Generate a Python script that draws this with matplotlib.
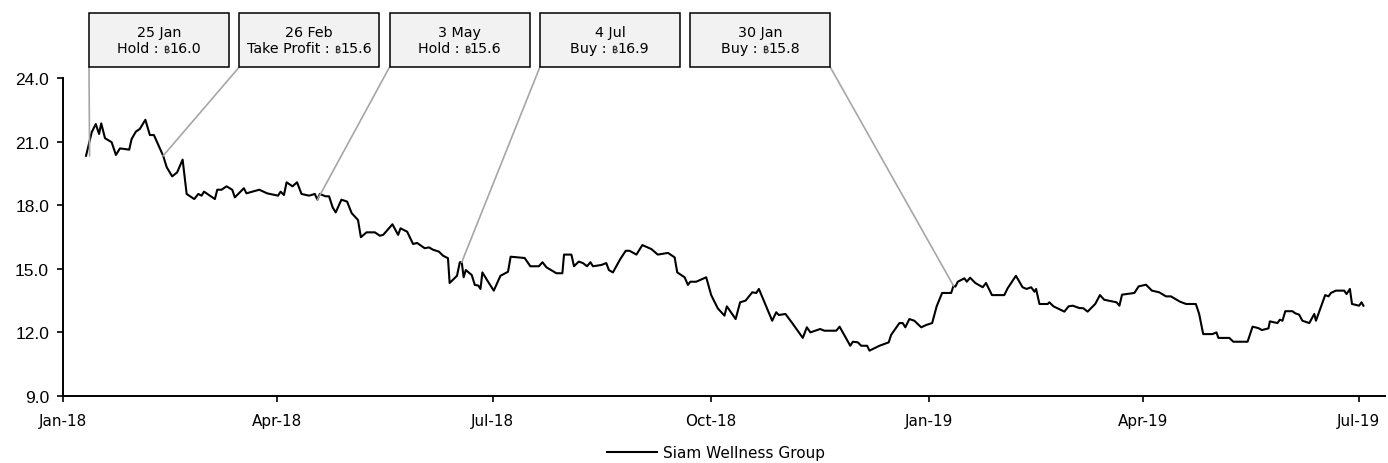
import matplotlib
matplotlib.use("Agg")
import matplotlib.pyplot as plt
import matplotlib.dates as mdates
import matplotlib.patches as mpatch
from matplotlib.offsetbox import TextArea, HPacker, VPacker, AnnotationBbox
import numpy as np
import pandas as pd

# days since 1 Jan 2018
days = [9.7, 12.1, 13.8, 15.2, 16.1, 17.7, 20.5, 22.3, 24.0, 27.9, 28.9, 30.7, 32.4, 34.7, 36.6, 38.3,
        42.2, 43.7, 46.0, 48.1, 50.4, 52.1, 55.3, 57.0, 58.4, 59.4, 64.0, 65.0, 66.8, 68.9, 71.3, 72.4,
        76.2, 77.3, 82.7, 86.0, 90.6, 91.7, 93.1, 94.2, 96.7, 98.6, 100.5, 103.7, 106.1, 107.2, 108.2,
        110.6, 112.1, 113.6, 114.9, 117.3, 119.7, 121.6, 124.3, 125.5, 127.9, 131.4, 133.5, 134.9, 138.8,
        141.2, 142.2, 145.0, 147.5, 149.2, 152.4, 154.2, 155.9, 158.4, 160.1, 162.2, 162.9, 166.0, 167.2,
        168.0, 168.8, 169.7, 172.2, 173.5, 175.0, 175.9, 176.7, 179.1, 181.5, 184.3, 187.5, 188.6, 194.5,
        196.9, 200.5, 202.0, 203.7, 207.9, 210.4, 211.1, 214.2, 215.3, 217.3, 219.1, 220.8, 222.2, 223.3,
        226.8, 228.9, 230.0, 231.7, 234.8, 237.1, 238.7, 241.6, 244.1, 245.3, 247.9, 250.6, 254.9, 257.7,
        258.8, 261.9, 263.3, 264.3, 266.8, 271.0, 273.1, 275.9, 278.7, 279.7, 283.4, 285.3, 287.6, 290.4,
        292.1, 293.2, 298.8, 300.5, 301.6, 304.4, 307.5, 311.7, 313.4, 314.9, 319.0, 320.8, 325.8, 327.2,
        331.7, 332.8, 334.9, 336.3, 338.8, 339.8, 344.0, 347.9, 348.9, 352.4, 353.8, 354.9, 356.6, 358.7,
        361.6, 363.7, 366.2, 368.1, 370.4, 374.2, 375.2, 376.0, 377.0, 379.8, 380.8, 382.2, 384.4, 387.5,
        388.9, 391.4, 396.6, 398.0, 401.5, 404.3, 406.0, 407.9, 409.3, 410.0, 411.4, 414.9, 415.6, 417.3,
        421.9, 423.7, 425.4, 428.2, 429.9, 431.7, 434.9, 436.9, 438.7, 443.9, 445.1, 446.2, 451.4, 453.2,
        456.3, 458.8, 461.9, 464.7, 466.8, 470.6, 473.2, 477.3, 478.7, 480.4, 484.3, 486.0, 486.8, 491.4,
        493.1, 499.1, 501.2, 503.7, 505.1, 507.9, 508.5, 511.7, 512.7, 513.8, 515.0, 518.0, 519.2, 520.8,
        522.2, 525.1, 527.2, 527.9, 531.8, 533.2, 534.2, 536.3, 539.8, 540.8, 542.2, 543.1, 546.1, 547.1,
        547.9]
prices = [20.33, 21.44, 21.83, 21.36, 21.86, 21.16, 20.97, 20.37, 20.68, 20.62, 21.12, 21.47, 21.6, 22.03,
          21.31, 21.31, 20.33, 19.79, 19.36, 19.55, 20.15, 18.53, 18.29, 18.53, 18.45, 18.64, 18.29, 18.73,
          18.73, 18.89, 18.73, 18.37, 18.8, 18.56, 18.73, 18.56, 18.45, 18.64, 18.48, 19.08, 18.89, 19.08,
          18.53, 18.45, 18.53, 18.26, 18.53, 18.42, 18.42, 17.9, 17.66, 18.26, 18.17, 17.63, 17.3, 16.49,
          16.72, 16.72, 16.56, 16.6, 17.1, 16.6, 16.91, 16.75, 16.17, 16.22, 15.97, 16.01, 15.9, 15.81,
          15.62, 15.5, 14.33, 14.67, 15.31, 15.31, 14.6, 14.94, 14.71, 14.24, 14.21, 14.05, 14.83, 14.39,
          13.97, 14.67, 14.86, 15.57, 15.51, 15.12, 15.12, 15.31, 15.07, 14.79, 14.79, 15.67, 15.67, 15.12,
          15.34, 15.27, 15.12, 15.31, 15.12, 15.18, 15.27, 14.94, 14.83, 15.46, 15.85, 15.85, 15.67, 16.12,
          16.06, 15.93, 15.67, 15.75, 15.54, 14.83, 14.6, 14.24, 14.39, 14.39, 14.6, 13.76, 13.13, 12.79,
          13.23, 12.63, 13.42, 13.5, 13.89, 13.86, 14.05, 12.55, 12.95, 12.82, 12.87, 12.4, 11.74, 12.24,
          12.0, 12.16, 12.08, 12.08, 12.27, 11.37, 11.56, 11.53, 11.37, 11.37, 11.14, 11.37, 11.53, 11.88,
          12.44, 12.44, 12.24, 12.63, 12.55, 12.24, 12.35, 12.44, 13.23, 13.86, 13.86, 14.2, 14.16, 14.39,
          14.55, 14.39, 14.58, 14.33, 14.13, 14.33, 13.76, 13.76, 14.08, 14.67, 14.13, 14.05, 14.13, 13.92,
          14.05, 13.34, 13.34, 13.42, 13.23, 12.98, 13.23, 13.26, 13.15, 13.14, 12.98, 13.34, 13.76, 13.54,
          13.42, 13.26, 13.78, 13.86, 14.17, 14.25, 13.97, 13.89, 13.7, 13.7, 13.45, 13.34, 13.34, 12.87,
          11.92, 11.92, 12.0, 11.74, 11.74, 11.56, 11.56, 12.27, 12.2, 12.11, 12.19, 12.52, 12.44, 12.6,
          12.55, 13.0, 13.0, 12.9, 12.84, 12.55, 12.44, 12.87, 12.55, 13.76, 13.7, 13.86, 13.97, 13.97,
          13.81, 14.05, 13.34, 13.26, 13.42, 13.26]

# recommendation callouts
ann_labels = ["25 Jan", "26 Feb", "3 May", "4 Jul", "30 Jan"]
ann_calls = ["Hold", "Take Profit", "Hold", "Buy", "Buy"]
ann_targets = [16.0, 15.6, 15.6, 16.9, 15.8]
ann_days = [11.2, 42.2, 107.2, 168.0, 375.2]
ann_prices = [20.33, 20.33, 18.26, 15.31, 14.2]

series_name = "Siam Wellness Group"

start = pd.Timestamp("2018-01-01")
dates = start + pd.to_timedelta(days, unit="D")
ann_dates = start + pd.to_timedelta(ann_days, unit="D")

W, H = 1388, 464
fig = plt.figure(figsize=(W / 100, H / 100), dpi=100)
ax = fig.add_axes([63 / W, 1 - 397 / H, (1385 - 63) / W, (397 - 79) / H])

line, = ax.plot(dates, prices, color="black", lw=1.5, label=series_name)

ax.set_ylim(9, 24)
ax.set_yticks(np.arange(9, 24.1, 3))
ax.yaxis.set_major_formatter(matplotlib.ticker.FormatStrFormatter("%.1f"))
ax.set_xlim(start, start + pd.Timedelta(days=557))
ax.xaxis.set_major_locator(mdates.MonthLocator(bymonth=[1, 4, 7, 10]))
ax.xaxis.set_major_formatter(mdates.DateFormatter("%b-%y"))

for s in ["top", "right"]:
    ax.spines[s].set_visible(False)
for s in ["left", "bottom"]:
    ax.spines[s].set_linewidth(1.4)
ax.tick_params(axis="both", width=1.2, length=4, direction="out")
ax.tick_params(axis="x", pad=8)
ax.tick_params(axis="y", pad=6)
for t in ax.get_yticklabels():
    t.set_fontfamily("Liberation Sans")
    t.set_fontsize(12.5)
for t in ax.get_xticklabels():
    t.set_fontfamily("DejaVu Sans")
    t.set_fontsize(11)

# callout boxes along the top, in figure pixels
box_w, box_h, box_top = 140, 54, 14
fs = 10.3
for i in range(len(ann_labels)):
    x0 = 89 + 150.3 * i
    y0 = H - box_top - box_h
    px, py = ax.transData.transform((mdates.date2num(ann_dates[i]), ann_prices[i]))
    cx = x0 if px <= x0 + box_w / 2 else x0 + box_w
    fig.add_artist(plt.Line2D([cx / W, px / W], [y0 / H, py / H], color="#a6a6a6", lw=1.2,
                              transform=fig.transFigure, zorder=1))
    fig.add_artist(mpatch.Rectangle((x0 / W, y0 / H), box_w / W, box_h / H, facecolor="#f2f2f2",
                                    edgecolor="black", lw=1.1, transform=fig.transFigure, zorder=2))
    row2 = HPacker(children=[TextArea(ann_calls[i] + " : ", textprops=dict(size=fs)),
                             TextArea("\u0e3f", textprops=dict(size=7, family=["Noto Sans", "DejaVu Sans"])),
                             TextArea("%.1f" % ann_targets[i], textprops=dict(size=fs))],
                   align="baseline", pad=0, sep=0)
    col = VPacker(children=[TextArea(ann_labels[i], textprops=dict(size=fs)), row2],
                  align="center", pad=0, sep=2)
    ab = AnnotationBbox(col, ((x0 + box_w / 2) / W, (y0 + box_h / 2) / H), xycoords="figure fraction",
                        frameon=False, box_alignment=(0.5, 0.5), zorder=3)
    fig.add_artist(ab)

fig.legend(handles=[line], labels=[series_name], loc="center", bbox_to_anchor=(716 / W, 10 / H),
           frameon=False, fontsize=11, handlelength=3.3, handletextpad=0.4)

fig.savefig("out.png", dpi=100)
